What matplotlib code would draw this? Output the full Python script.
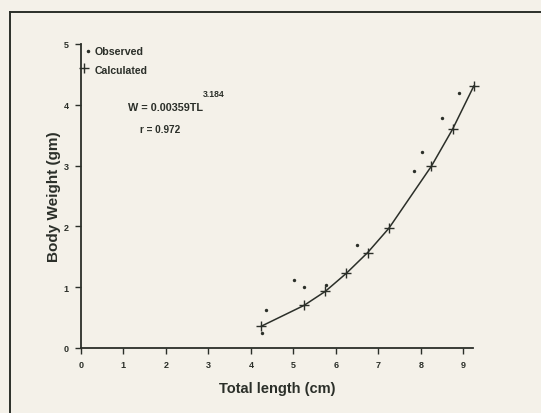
import matplotlib
matplotlib.use("Agg")
import matplotlib.pyplot as plt
from matplotlib.lines import Line2D

# Data
calc_x = [4.25, 5.25, 5.75, 6.25, 6.75, 7.25, 8.25, 8.75, 9.25]
calc_y = [0.36, 0.70, 0.93, 1.23, 1.57, 1.97, 2.99, 3.60, 4.31]

obs_x = [4.27, 4.35, 5.01, 5.25, 5.76, 6.50, 7.84, 8.04, 8.50, 8.89]
obs_y = [0.25, 0.63, 1.12, 1.01, 1.04, 1.69, 2.91, 3.23, 3.79, 4.19]

x_ticks = [0, 1, 2, 3, 4, 5, 6, 7, 8, 9]
y_ticks = [0, 1, 2, 3, 4, 5]

bg = "#f4f1e9"
ink = "#2b2f29"

plt.rcParams['font.family'] = ['Liberation Sans', 'DejaVu Sans']

fig = plt.figure(figsize=(5.41, 4.14), dpi=100, facecolor=bg)
ax = fig.add_axes([81/541, 65/414, (473-81)/541, (349-45)/414])
ax.set_facecolor(bg)

ax.plot(calc_x, calc_y, color=ink, lw=1.1, zorder=2, clip_on=False)
ax.plot(calc_x, calc_y, linestyle='none', marker='+', ms=7, mew=1.0,
        color=ink, zorder=3, clip_on=False)
ax.scatter(obs_x, obs_y, s=6, color=ink, zorder=4, linewidths=0,
           clip_on=False)

ax.set_xlim(0, 9.23)
ax.set_ylim(0, 5)
ax.set_xticks(x_ticks)
ax.set_yticks(y_ticks)
ax.set_xticklabels([str(t) for t in x_ticks])
ax.set_yticklabels([str(t) for t in y_ticks])

for s in ['top', 'right']:
    ax.spines[s].set_visible(False)
for s in ['left', 'bottom']:
    ax.spines[s].set_color(ink)
    ax.spines[s].set_linewidth(1.3)

ax.tick_params(axis='both', direction='out', length=4, width=1.0,
               colors=ink, labelsize=6.5, pad=5)
for lab in ax.get_xticklabels() + ax.get_yticklabels():
    lab.set_fontweight('bold')

ax.set_xlabel('Total length (cm)', fontsize=10.5, fontweight='bold',
              color=ink, labelpad=8)
ax.set_ylabel('Body Weight (gm)', fontsize=11, fontweight='bold',
              color=ink, labelpad=2)

# Legend-like annotations
ax.plot([0.17], [4.89], marker='.', ms=3, color=ink, linestyle='none',
        clip_on=False)
ax.text(0.33, 4.89, 'Observed', fontsize=7.7, fontweight='bold',
        color=ink, va='center', ha='left')
ax.plot([0.07], [4.6], marker='+', ms=7, mew=1.0, color=ink,
        linestyle='none', clip_on=False)
ax.text(0.33, 4.58, 'Calculated', fontsize=7.6, fontweight='bold',
        color=ink, va='center', ha='left')

ax.text(1.1, 3.97, 'W = 0.00359TL', fontsize=7.8, fontweight='bold',
        color=ink, va='center', ha='left')
ax.text(2.88, 4.19, '3.184', fontsize=6.2, fontweight='bold',
        color=ink, va='center', ha='left')
ax.text(1.39, 3.6, 'r = 0.972', fontsize=7.2, fontweight='bold',
        color=ink, va='center', ha='left')

# Outer frame (top and left border)
fig.add_artist(Line2D([10/541, 1.0], [1 - 13/414, 1 - 13/414],
                      transform=fig.transFigure, color=ink, lw=1.4))
fig.add_artist(Line2D([10/541, 10/541], [0.0, 1 - 13/414],
                      transform=fig.transFigure, color=ink, lw=1.4))

fig.savefig('out.png', dpi=100, facecolor=bg)
